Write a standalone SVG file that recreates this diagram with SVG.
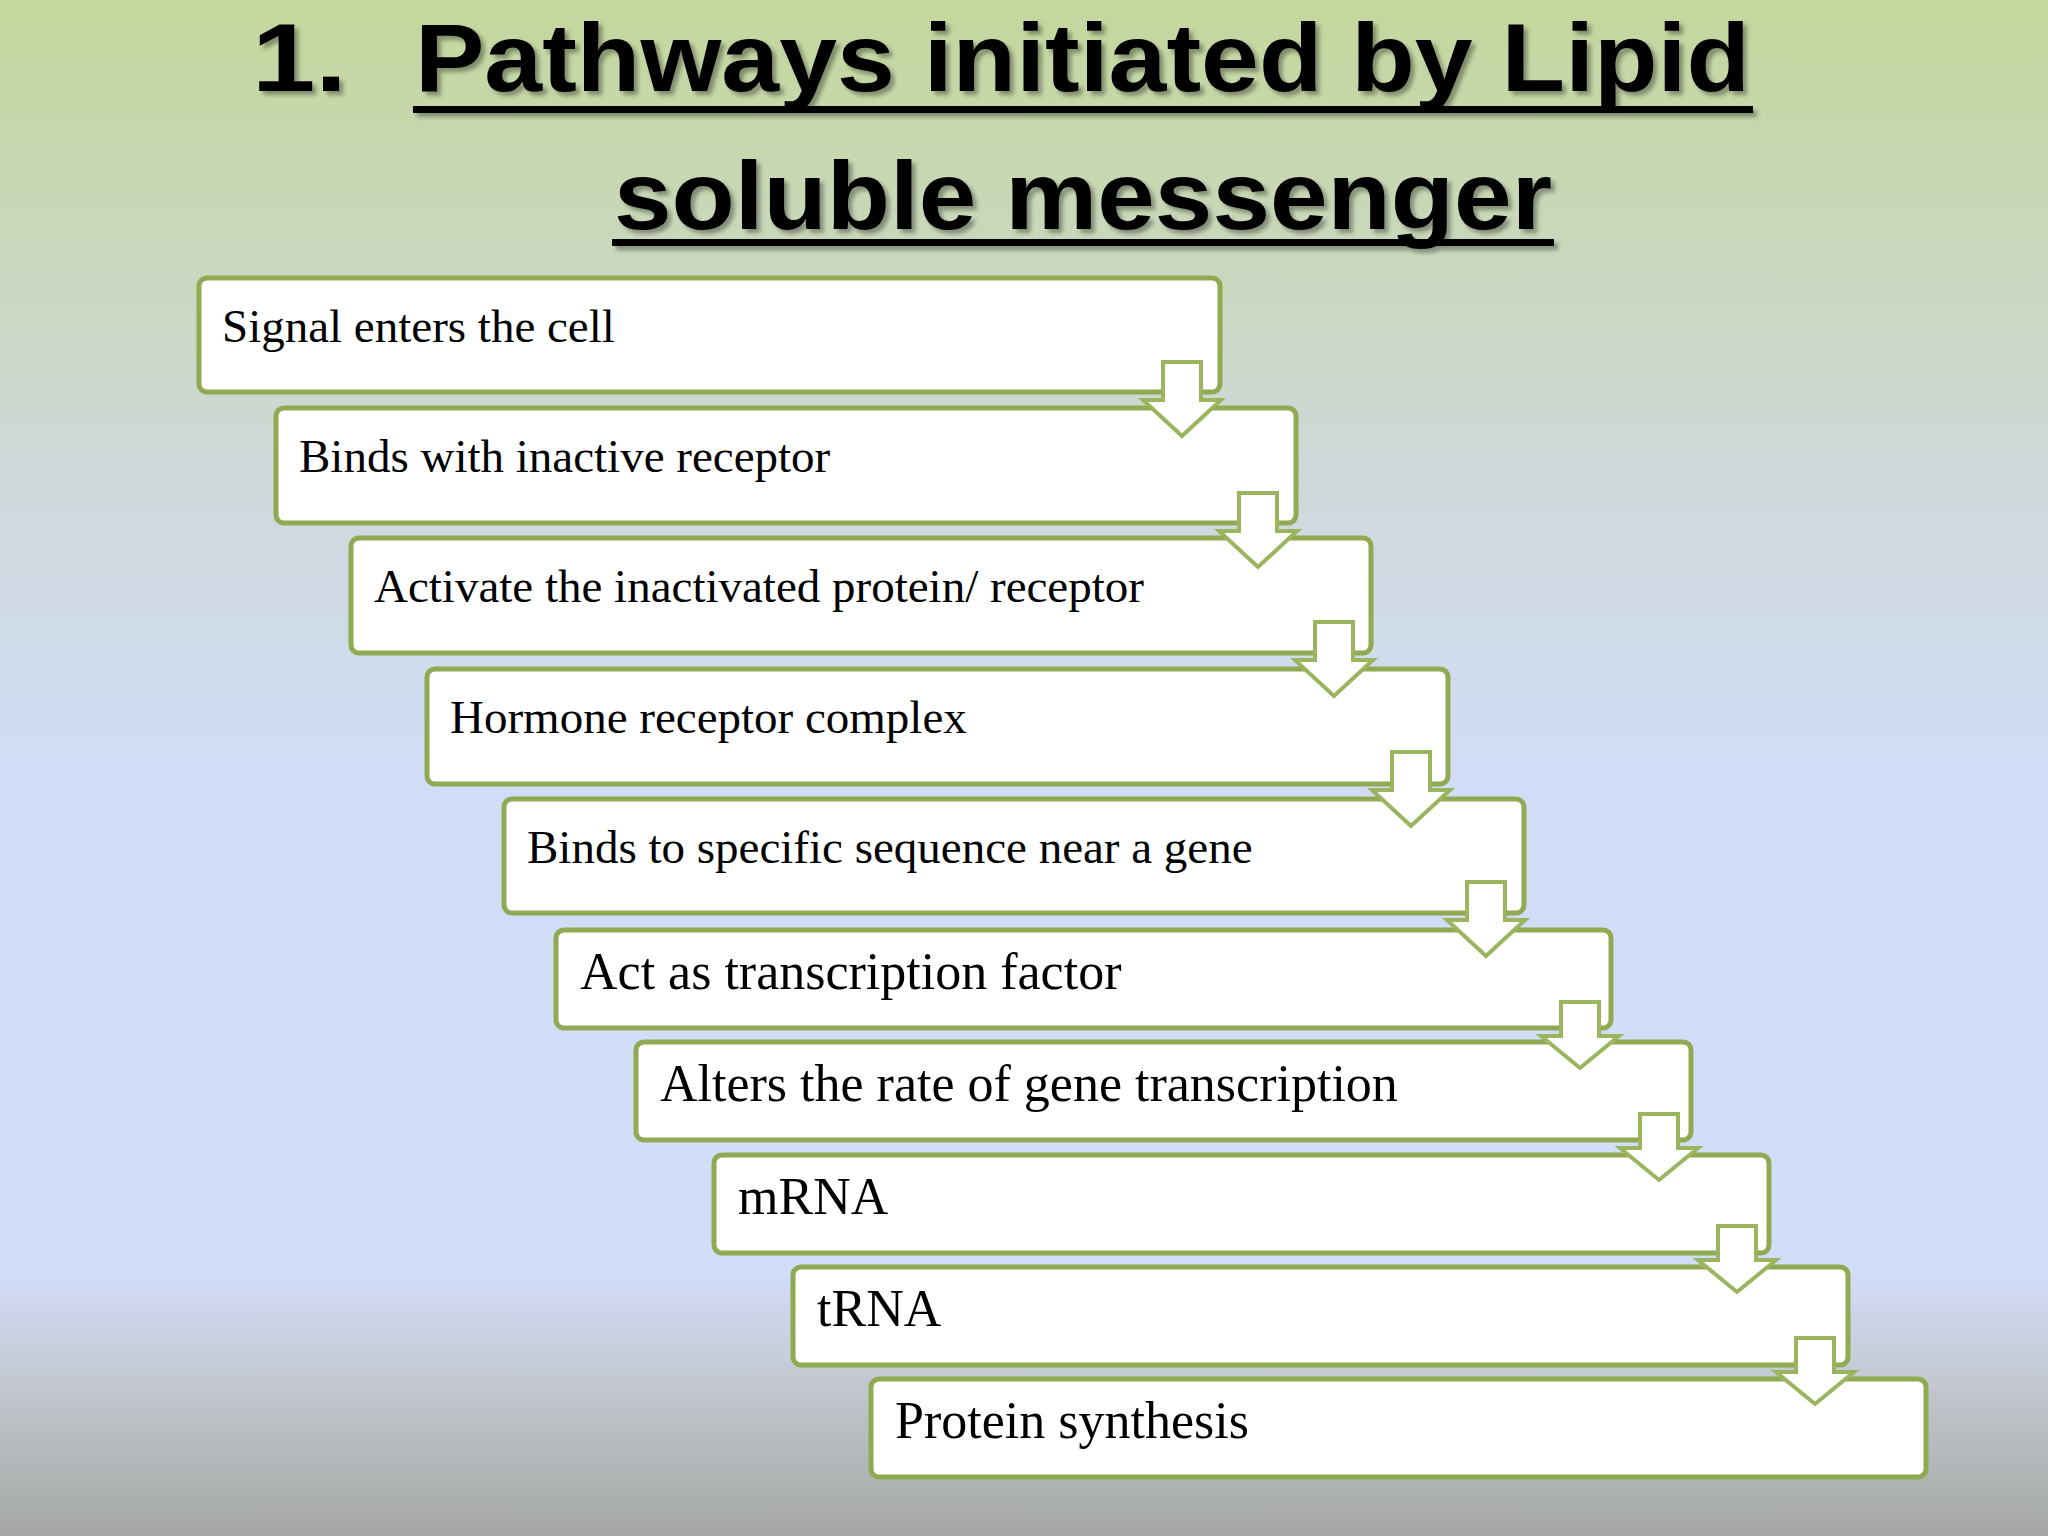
<svg xmlns="http://www.w3.org/2000/svg" width="2048" height="1536" viewBox="0 0 2048 1536">
<defs>
<linearGradient id="bg" x1="0" y1="0" x2="0" y2="1">
<stop offset="0" stop-color="#c4d79c"/>
<stop offset="0.3" stop-color="#cdd9d8"/>
<stop offset="0.5" stop-color="#d2dcf6"/>
<stop offset="0.83" stop-color="#d3dcf8"/>
<stop offset="0.9" stop-color="#c3c8d0"/>
<stop offset="1" stop-color="#a4a7a4"/>
</linearGradient>
<filter id="sh" x="-5%" y="-5%" width="110%" height="120%"><feDropShadow dx="4" dy="4" stdDeviation="2" flood-color="#000" flood-opacity="0.35"/></filter>
</defs>
<style>
.box{fill:#fff;stroke:#8faa50;stroke-width:5}
.t{font-family:"Liberation Serif","Times New Roman",serif;fill:#000}
.s{font-size:47px}.l{font-size:52px}
.ar{fill:#fff;stroke:#9bb55e;stroke-width:4;stroke-linejoin:miter}
.ti{font-family:"Liberation Sans",Arial,sans-serif;font-weight:bold;font-size:96px;fill:#000}
</style>
<rect width="2048" height="1536" fill="url(#bg)"/>
<g id="title" filter="url(#sh)">
<text class="ti" x="252" y="91" textLength="95" lengthAdjust="spacingAndGlyphs">1.</text>
<text class="ti" x="415" y="91" textLength="1335" lengthAdjust="spacingAndGlyphs">Pathways initiated by Lipid</text>
<rect x="413" y="106" width="1340" height="7"/>
<text class="ti" x="614" y="229" textLength="938" lengthAdjust="spacingAndGlyphs">soluble messenger</text>
<rect x="612" y="239" width="942" height="7"/>
</g>
<g id="n1"><rect class="box" x="199" y="278" width="1021" height="114" rx="8"/><text class="t s" x="222" y="342">Signal enters the cell</text></g>
<g id="n2"><rect class="box" x="276" y="408" width="1020" height="115" rx="8"/><text class="t s" x="299" y="472">Binds with inactive receptor</text></g>
<g id="n3"><rect class="box" x="351" y="538" width="1020" height="115" rx="8"/><text class="t s" x="374" y="602">Activate the inactivated protein/ receptor</text></g>
<g id="n4"><rect class="box" x="427" y="669" width="1021" height="115" rx="8"/><text class="t s" x="450" y="733">Hormone receptor complex</text></g>
<g id="n5"><rect class="box" x="504" y="799" width="1020" height="114" rx="8"/><text class="t s" x="527" y="863">Binds to specific sequence near a gene</text></g>
<g id="n6"><rect class="box" x="556" y="930" width="1055" height="98" rx="8"/><text class="t l" x="580" y="989">Act as transcription factor</text></g>
<g id="n7"><rect class="box" x="636" y="1042" width="1055" height="98" rx="8"/><text class="t l" x="660" y="1101">Alters the rate of gene transcription</text></g>
<g id="n8"><rect class="box" x="714" y="1155" width="1055" height="98" rx="8"/><text class="t l" x="738" y="1214">mRNA</text></g>
<g id="n9"><rect class="box" x="793" y="1267" width="1055" height="98" rx="8"/><text class="t l" x="817" y="1326">tRNA</text></g>
<g id="n10"><rect class="box" x="871" y="1379" width="1055" height="98" rx="8"/><text class="t l" x="895" y="1438">Protein synthesis</text></g>
<g id="connectors">
<path class="ar" transform="translate(1182,362)" d="M-19,0H19V38H39L0,74L-39,38H-19Z"/>
<path class="ar" transform="translate(1258,493)" d="M-19,0H19V38H39L0,74L-39,38H-19Z"/>
<path class="ar" transform="translate(1334,622)" d="M-19,0H19V38H39L0,74L-39,38H-19Z"/>
<path class="ar" transform="translate(1411,752)" d="M-19,0H19V38H39L0,74L-39,38H-19Z"/>
<path class="ar" transform="translate(1486,882)" d="M-19,0H19V38H39L0,74L-39,38H-19Z"/>
<path class="ar" transform="translate(1580,1002)" d="M-19,0H19V34H39L0,66L-39,34H-19Z"/>
<path class="ar" transform="translate(1659,1114)" d="M-19,0H19V34H39L0,66L-39,34H-19Z"/>
<path class="ar" transform="translate(1737,1226)" d="M-19,0H19V34H39L0,66L-39,34H-19Z"/>
<path class="ar" transform="translate(1815,1338)" d="M-19,0H19V34H39L0,66L-39,34H-19Z"/>
</g>
</svg>
